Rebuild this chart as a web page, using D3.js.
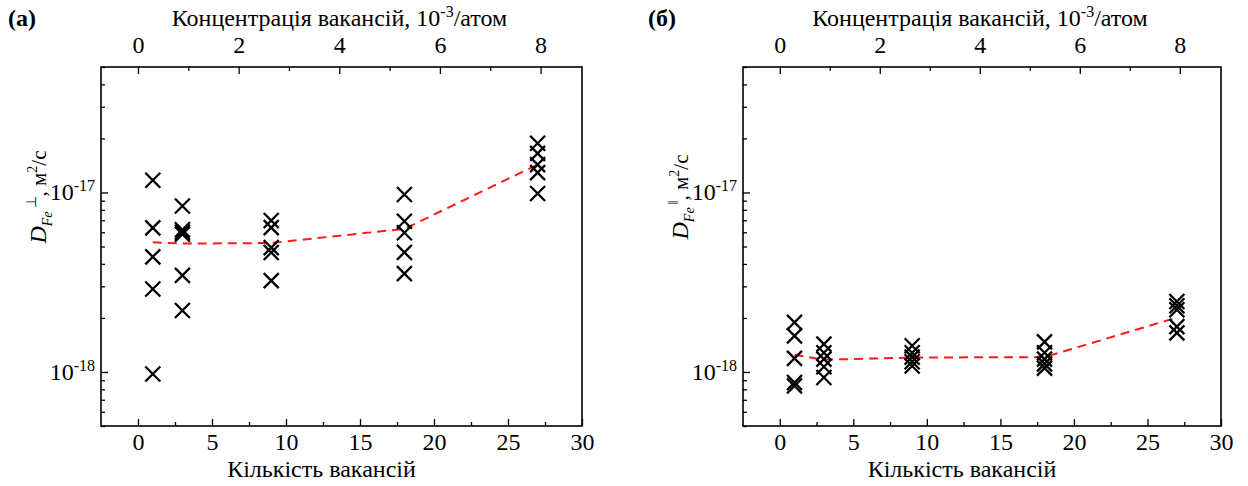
<!DOCTYPE html>
<html>
<head>
<meta charset="utf-8">
<script src="https://cdn.jsdelivr.net/npm/d3@7"></script>
<style>
  html, body { margin: 0; padding: 0; background: #fff; }
  svg { display: block; }
  text { font-family: "Liberation Serif", "Times New Roman", serif; fill: #000; }
</style>
</head>
<body>
<svg id="chart" width="1248" height="486"></svg>
<script>
// ---------- data ----------
const vacancyCounts = [1, 3, 9, 18, 27];
// D_Fe perpendicular (panel а), m^2/s, one list per vacancy count
const dPerpN1  = [1.17e-17, 6.35e-18, 4.38e-18, 2.90e-18, 9.75e-19];
const dPerpN3  = [8.4e-18, 6.2e-18, 6.0e-18, 5.85e-18, 3.45e-18, 2.2e-18];
const dPerpN9  = [6.98e-18, 6.37e-18, 4.93e-18, 4.63e-18, 3.23e-18];
const dPerpN18 = [9.74e-18, 6.91e-18, 5.96e-18, 4.64e-18, 3.53e-18];
const dPerpN27 = [1.88e-17, 1.65e-17, 1.43e-17, 1.29e-17, 9.87e-18];
const dPerpMean = [5.28e-18, 5.19e-18, 5.23e-18, 6.27e-18, 1.43e-17];
// D_Fe parallel (panel б)
const dParN1  = [1.89e-18, 1.59e-18, 1.19e-18, 8.73e-19, 8.36e-19];
const dParN3  = [1.43e-18, 1.28e-18, 1.18e-18, 1.07e-18, 9.31e-19];
const dParN9  = [1.40e-18, 1.28e-18, 1.21e-18, 1.14e-18, 1.08e-18];
const dParN18 = [1.47e-18, 1.28e-18, 1.18e-18, 1.11e-18, 1.05e-18];
const dParN27 = [2.47e-18, 2.34e-18, 2.22e-18, 1.79e-18, 1.65e-18];
const dParMean = [1.246e-18, 1.17e-18, 1.203e-18, 1.21e-18, 2.01e-18];

const bottomTicks = [0, 5, 10, 15, 20, 25, 30];
const bottomMinorTicks = [2.5, 7.5, 12.5, 17.5, 22.5, 27.5];
const topTicks = [0, 2, 4, 6, 8];
const topMinorTicks = [1, 3, 5, 7];
const yMajorTicks = [1e-18, 1e-17];
const yMajorExponents = ["-18", "-17"];
const vacanciesPerConcUnit = 3.4; // vacancies per 10^-3 /atom

const xDomain = [-2.5, 30];
const yDomain = [5e-19, 5e-17];

const panelLetters = ["(а)", "(б)"];
const topTitle = "Концентрація вакансій, 10";
const topTitleExp = "-3";
const topTitleTail = "/атом";
const bottomTitle = "Кількість вакансій";

// ---------- drawing ----------
const svg = d3.select("#chart");
const FS = 24;
const SS = 16;
const YFS = 21;
const YSS = 14;

function yMinor() {
  const out = [];
  for (let e = -19; e <= -17; e++) {
    for (let k = 2; k <= 9; k++) {
      const v = k * Math.pow(10, e);
      if (v >= yDomain[0] * 0.999 && v <= yDomain[1] * 1.001) out.push(v);
    }
  }
  return out;
}

function drawPanel(cfg) {
  const { x0, x1, y0, y1, groups, mean, sym, letter, letterX, ylabX } = cfg;
  const x = d3.scaleLinear().domain(xDomain).range([x0, x1]);
  const xTop = d3.scaleLinear().domain(xDomain.map(d => d / vacanciesPerConcUnit)).range([x0, x1]);
  const y = d3.scaleLog().domain(yDomain).range([y1, y0]);
  const g = svg.append("g");

  // bottom axis
  g.append("g").attr("transform", `translate(0,${y1})`)
    .call(d3.axisBottom(x).tickValues(bottomTicks).tickSize(-7).tickPadding(7).tickFormat(d3.format("d")));
  g.append("g").attr("transform", `translate(0,${y1})`)
    .call(d3.axisBottom(x).tickValues(bottomMinorTicks).tickSize(-4).tickFormat(""));
  // top axis
  g.append("g").attr("transform", `translate(0,${y0})`)
    .call(d3.axisTop(xTop).tickValues(topTicks).tickSize(-7).tickPadding(14).tickFormat(d3.format("d")));
  g.append("g").attr("transform", `translate(0,${y0})`)
    .call(d3.axisTop(xTop).tickValues(topMinorTicks).tickSize(-4).tickFormat(""));
  // left axis
  g.append("g").attr("transform", `translate(${x0},0)`)
    .call(d3.axisLeft(y).tickValues(yMajorTicks).tickSize(-7).tickFormat(""));
  g.append("g").attr("transform", `translate(${x0},0)`)
    .call(d3.axisLeft(y).tickValues(yMinor()).tickSize(-4).tickFormat(""));

  g.selectAll(".domain").remove();
  g.selectAll(".tick line").attr("stroke", "#000").attr("stroke-width", 1.3);
  g.selectAll(".tick text").attr("font-size", FS).attr("font-family", "Liberation Serif");

  // y tick labels with superscripts
  yMajorTicks.forEach((v, i) => {
    const t = g.append("text").attr("x", x0 - 6).attr("y", y(v) + 8)
      .attr("text-anchor", "end").attr("font-size", FS);
    t.append("tspan").text("10");
    t.append("tspan").attr("font-size", SS).attr("dy", -9).text(yMajorExponents[i]);
  });

  // frame
  g.append("rect").attr("x", x0).attr("y", y0).attr("width", x1 - x0).attr("height", y1 - y0)
    .attr("fill", "none").attr("stroke", "#000").attr("stroke-width", 1.6);

  // top title
  const cx = (x0 + x1) / 2;
  const tt = g.append("text").attr("x", cx - 2).attr("y", 26).attr("text-anchor", "middle").attr("font-size", FS);
  tt.append("tspan").text(topTitle);
  tt.append("tspan").attr("font-size", SS).attr("dy", -9).text(topTitleExp);
  tt.append("tspan").attr("dy", 9).text(topTitleTail);

  // bottom title
  g.append("text").attr("x", cx - 20).attr("y", 477).attr("text-anchor", "middle").attr("font-size", FS).text(bottomTitle);

  // panel letter
  g.append("text").attr("x", letterX).attr("y", 26).attr("font-size", FS).attr("font-weight", "bold").text(letter);

  // y label
  const yl = g.append("text").attr("transform", `translate(${ylabX},197) rotate(-90)`)
    .attr("text-anchor", "middle").attr("font-size", YFS);
  yl.append("tspan").attr("font-style", "italic").attr("font-size", YFS + 3).text("D");
  yl.append("tspan").attr("font-style", "italic").attr("font-size", YSS).attr("dy", 6).text("Fe");
  yl.append("tspan").attr("font-size", YSS).attr("dy", -16).attr("dx", 3).text(sym);
  yl.append("tspan").attr("dy", 10).text(", м");
  yl.append("tspan").attr("font-size", YSS).attr("dy", -9).text("2");
  yl.append("tspan").attr("dy", 9).text("/с");

  // mean line
  const line = d3.line().x((d, i) => x(vacancyCounts[i])).y(d => y(d));
  g.append("path").datum(mean).attr("d", line).attr("fill", "none")
    .attr("stroke", "#ff1a1a").attr("stroke-width", 2).attr("stroke-dasharray", "9,6");

  // markers
  const pts = [];
  groups.forEach((arr, i) => arr.forEach(v => pts.push([vacancyCounts[i], v])));
  g.selectAll("path.pt").data(pts).enter().append("path").attr("class", "pt")
    .attr("d", "M-7.5,-7.5L7.5,7.5M-7.5,7.5L7.5,-7.5")
    .attr("transform", d => `translate(${x(d[0])},${y(d[1])})`)
    .attr("stroke", "#000").attr("stroke-width", 2.3).attr("fill", "none");
}

drawPanel({
  x0: 101, x1: 582, y0: 67, y1: 426,
  groups: [dPerpN1, dPerpN3, dPerpN9, dPerpN18, dPerpN27],
  mean: dPerpMean, sym: "⊥", letter: panelLetters[0], letterX: 8, ylabX: 46
});
drawPanel({
  x0: 743, x1: 1221, y0: 67, y1: 426,
  groups: [dParN1, dParN3, dParN9, dParN18, dParN27],
  mean: dParMean, sym: "ǁ", letter: panelLetters[1], letterX: 648, ylabX: 688
});
</script>
</body>
</html>
